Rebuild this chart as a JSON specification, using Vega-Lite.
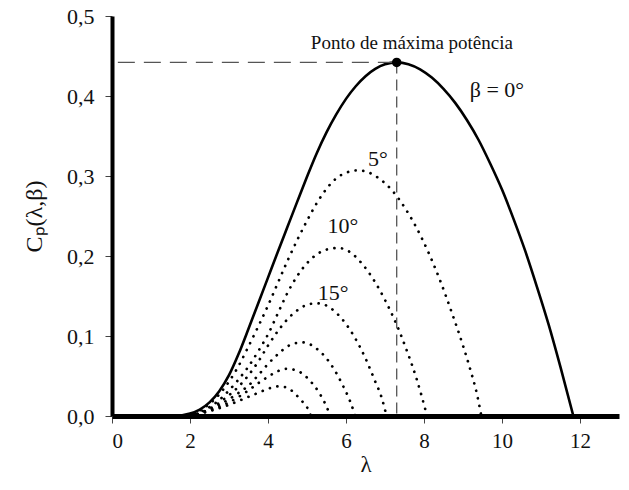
{
  "$schema": "https://vega.github.io/schema/vega-lite/v6.json",
  "width": 507,
  "height": 400,
  "autosize": "none",
  "padding": {"left": 112, "top": 16, "right": 10, "bottom": 74},
  "background": "white",
  "config": {"view": {"stroke": null}, "font": "Liberation Serif, Times New Roman, serif"},
  "datasets": {
    "curves": [
      {"b":0,"l":1.6,"c":0},{"b":0,"l":1.8,"c":0.001},{"b":0,"l":2.0,"c":0.003},{"b":0,"l":2.25,"c":0.008},{"b":0,"l":2.5,"c":0.017},{"b":0,"l":2.75,"c":0.031},{"b":0,"l":3.0,"c":0.051},{"b":0,"l":3.25,"c":0.078},{"b":0,"l":3.5,"c":0.109},{"b":0,"l":3.75,"c":0.141},{"b":0,"l":4.0,"c":0.173},{"b":0,"l":4.25,"c":0.205},{"b":0,"l":4.5,"c":0.2365},{"b":0,"l":4.75,"c":0.268},{"b":0,"l":5.0,"c":0.299},{"b":0,"l":5.25,"c":0.3285},{"b":0,"l":5.5,"c":0.3545},{"b":0,"l":5.75,"c":0.377},{"b":0,"l":6.0,"c":0.3964},{"b":0,"l":6.25,"c":0.4122},{"b":0,"l":6.5,"c":0.4247},{"b":0,"l":6.75,"c":0.4338},{"b":0,"l":7.0,"c":0.4396},{"b":0,"l":7.3,"c":0.442},{"b":0,"l":7.6,"c":0.4398},{"b":0,"l":7.9,"c":0.4334},{"b":0,"l":8.2,"c":0.423},{"b":0,"l":8.5,"c":0.4089},{"b":0,"l":8.8,"c":0.3914},{"b":0,"l":9.1,"c":0.370},{"b":0,"l":9.4,"c":0.345},{"b":0,"l":9.7,"c":0.3153},{"b":0,"l":10.0,"c":0.283},{"b":0,"l":10.3,"c":0.2458},{"b":0,"l":10.6,"c":0.2057},{"b":0,"l":10.9,"c":0.1608},{"b":0,"l":11.2,"c":0.1135},{"b":0,"l":11.5,"c":0.061},{"b":0,"l":11.83,"c":0},
      {"b":5,"l":1.9,"c":0},{"b":5,"l":2.25,"c":0.007},{"b":5,"l":2.5,"c":0.015},{"b":5,"l":2.75,"c":0.027},{"b":5,"l":3.0,"c":0.043},{"b":5,"l":3.25,"c":0.063},{"b":5,"l":3.5,"c":0.087},{"b":5,"l":3.75,"c":0.112},{"b":5,"l":4.0,"c":0.138},{"b":5,"l":4.25,"c":0.166},{"b":5,"l":4.5,"c":0.194},{"b":5,"l":4.75,"c":0.220},{"b":5,"l":5.0,"c":0.244},{"b":5,"l":5.25,"c":0.266},{"b":5,"l":5.5,"c":0.284},{"b":5,"l":5.75,"c":0.297},{"b":5,"l":6.0,"c":0.304},{"b":5,"l":6.3,"c":0.307},{"b":5,"l":6.6,"c":0.304},{"b":5,"l":6.9,"c":0.295},{"b":5,"l":7.2,"c":0.281},{"b":5,"l":7.5,"c":0.261},{"b":5,"l":7.8,"c":0.236},{"b":5,"l":8.1,"c":0.206},{"b":5,"l":8.4,"c":0.171},{"b":5,"l":8.7,"c":0.131},{"b":5,"l":9.0,"c":0.088},{"b":5,"l":9.2,"c":0.056},{"b":5,"l":9.35,"c":0.029},{"b":5,"l":9.47,"c":0},
      {"b":10,"l":1.95,"c":0},{"b":10,"l":2.25,"c":0.005},{"b":10,"l":2.5,"c":0.011},{"b":10,"l":2.75,"c":0.020},{"b":10,"l":3.0,"c":0.032},{"b":10,"l":3.25,"c":0.046},{"b":10,"l":3.5,"c":0.062},{"b":10,"l":3.75,"c":0.081},{"b":10,"l":4.0,"c":0.102},{"b":10,"l":4.25,"c":0.128},{"b":10,"l":4.5,"c":0.154},{"b":10,"l":4.75,"c":0.175},{"b":10,"l":5.0,"c":0.191},{"b":10,"l":5.25,"c":0.202},{"b":10,"l":5.5,"c":0.208},{"b":10,"l":5.8,"c":0.210},{"b":10,"l":6.1,"c":0.205},{"b":10,"l":6.4,"c":0.191},{"b":10,"l":6.7,"c":0.171},{"b":10,"l":7.0,"c":0.145},{"b":10,"l":7.3,"c":0.114},{"b":10,"l":7.55,"c":0.083},{"b":10,"l":7.8,"c":0.048},{"b":10,"l":8.08,"c":0},
      {"b":15,"l":2.0,"c":0},{"b":15,"l":2.5,"c":0.009},{"b":15,"l":3.0,"c":0.026},{"b":15,"l":3.25,"c":0.037},{"b":15,"l":3.5,"c":0.051},{"b":15,"l":3.75,"c":0.068},{"b":15,"l":4.0,"c":0.088},{"b":15,"l":4.25,"c":0.106},{"b":15,"l":4.5,"c":0.121},{"b":15,"l":4.75,"c":0.132},{"b":15,"l":5.0,"c":0.139},{"b":15,"l":5.25,"c":0.141},{"b":15,"l":5.5,"c":0.138},{"b":15,"l":5.75,"c":0.129},{"b":15,"l":6.0,"c":0.115},{"b":15,"l":6.25,"c":0.096},{"b":15,"l":6.5,"c":0.072},{"b":15,"l":6.75,"c":0.043},{"b":15,"l":6.9,"c":0.025},{"b":15,"l":7.04,"c":0},
      {"b":20,"l":2.0,"c":0},{"b":20,"l":2.5,"c":0.008},{"b":20,"l":3.0,"c":0.021},{"b":20,"l":3.25,"c":0.029},{"b":20,"l":3.5,"c":0.038},{"b":20,"l":3.75,"c":0.051},{"b":20,"l":4.0,"c":0.065},{"b":20,"l":4.25,"c":0.077},{"b":20,"l":4.5,"c":0.087},{"b":20,"l":4.7,"c":0.091},{"b":20,"l":4.9,"c":0.092},{"b":20,"l":5.1,"c":0.089},{"b":20,"l":5.3,"c":0.082},{"b":20,"l":5.5,"c":0.072},{"b":20,"l":5.7,"c":0.058},{"b":20,"l":5.9,"c":0.040},{"b":20,"l":6.1,"c":0.019},{"b":20,"l":6.24,"c":0},
      {"b":25,"l":2.0,"c":0},{"b":25,"l":2.5,"c":0.007},{"b":25,"l":3.0,"c":0.017},{"b":25,"l":3.25,"c":0.024},{"b":25,"l":3.5,"c":0.032},{"b":25,"l":3.75,"c":0.041},{"b":25,"l":4.0,"c":0.049},{"b":25,"l":4.25,"c":0.056},{"b":25,"l":4.45,"c":0.059},{"b":25,"l":4.65,"c":0.058},{"b":25,"l":4.85,"c":0.054},{"b":25,"l":5.0,"c":0.048},{"b":25,"l":5.15,"c":0.040},{"b":25,"l":5.3,"c":0.030},{"b":25,"l":5.45,"c":0.017},{"b":25,"l":5.6,"c":0},
      {"b":30,"l":2.0,"c":0},{"b":30,"l":2.5,"c":0.006},{"b":30,"l":3.0,"c":0.014},{"b":30,"l":3.5,"c":0.024},{"b":30,"l":3.75,"c":0.029},{"b":30,"l":4.0,"c":0.034},{"b":30,"l":4.25,"c":0.037},{"b":30,"l":4.45,"c":0.036},{"b":30,"l":4.6,"c":0.032},{"b":30,"l":4.75,"c":0.025},{"b":30,"l":4.9,"c":0.017},{"b":30,"l":5.0,"c":0.011},{"b":30,"l":5.1,"c":0}
    ],
    "peak": [{"l": 7.3, "c": 0.442, "l0": 0.15, "c0": 0}],
    "labels": [
      {"l": 7.69, "c": 0.466, "t": "Ponto de máxima potência", "s": 19},
      {"l": 9.87, "c": 0.408, "t": "β = 0°", "s": 22},
      {"l": 6.82, "c": 0.321, "t": "5°", "s": 22},
      {"l": 5.92, "c": 0.238, "t": "10°", "s": 22},
      {"l": 5.67, "c": 0.154, "t": "15°", "s": 22}
    ]
  },
  "layer": [
    {
      "data": {"name": "curves"},
      "transform": [{"filter": "datum.b > 0"}],
      "mark": {"type": "line", "color": "black", "strokeWidth": 2.7, "strokeDash": [0.1, 7.6], "strokeCap": "round", "interpolate": "monotone"},
      "encoding": {
        "x": {"field": "l", "type": "quantitative", "scale": {"domain": [0, 13], "nice": false},
          "axis": {"values": [0, 2, 4, 6, 8, 10, 12], "title": "λ", "grid": false, "domainWidth": 5, "domainColor": "black", "tickColor": "#444", "tickSize": 7, "tickWidth": 1, "labelFont": "Liberation Serif, serif", "labelFontSize": 21, "labelColor": "#111", "labelPadding": 7, "titleFont": "Liberation Serif, serif", "titleFontSize": 23, "titleFontWeight": "normal", "titleColor": "#111", "titlePadding": 2}},
        "y": {"field": "c", "type": "quantitative", "scale": {"domain": [0, 0.5], "nice": false},
          "axis": {"values": [0, 0.1, 0.2, 0.3, 0.4, 0.5], "labelExpr": "replace(format(datum.value, '.1f'), '.', ',')", "title": "Cₚ(λ,β)", "grid": false, "domainWidth": 4, "domainColor": "black", "tickColor": "#444", "tickSize": 7, "tickWidth": 1, "labelFont": "Liberation Serif, serif", "labelFontSize": 22, "labelColor": "#111", "labelPadding": 11, "titleFont": "Liberation Serif, serif", "titleFontSize": 24, "titleFontWeight": "normal", "titleColor": "#111", "titlePadding": 20}},
        "detail": {"field": "b", "type": "nominal"}
      }
    },
    {
      "data": {"name": "curves"},
      "transform": [{"filter": "datum.b == 0"}],
      "mark": {"type": "line", "color": "black", "strokeWidth": 2.6, "interpolate": "monotone"},
      "encoding": {
        "x": {"field": "l", "type": "quantitative"},
        "y": {"field": "c", "type": "quantitative"}
      }
    },
    {
      "data": {"name": "peak"},
      "mark": {"type": "rule", "color": "#555", "strokeWidth": 1.3, "strokeDash": [17, 9]},
      "encoding": {
        "x": {"field": "l0", "type": "quantitative"},
        "x2": {"field": "l"},
        "y": {"field": "c", "type": "quantitative"}
      }
    },
    {
      "data": {"name": "peak"},
      "mark": {"type": "rule", "color": "#555", "strokeWidth": 1.3, "strokeDash": [11, 6]},
      "encoding": {
        "x": {"field": "l", "type": "quantitative"},
        "y": {"field": "c", "type": "quantitative"},
        "y2": {"field": "c0"}
      }
    },
    {
      "data": {"name": "peak"},
      "mark": {"type": "circle", "color": "black", "size": 90, "opacity": 1},
      "encoding": {
        "x": {"field": "l", "type": "quantitative"},
        "y": {"field": "c", "type": "quantitative"}
      }
    },
    {
      "data": {"name": "labels"},
      "mark": {"type": "text", "font": "Liberation Serif, serif", "color": "#111", "align": "center", "baseline": "middle"},
      "encoding": {
        "x": {"field": "l", "type": "quantitative"},
        "y": {"field": "c", "type": "quantitative"},
        "text": {"field": "t", "type": "nominal"},
        "size": {"field": "s", "type": "quantitative", "scale": null}
      }
    }
  ]
}
